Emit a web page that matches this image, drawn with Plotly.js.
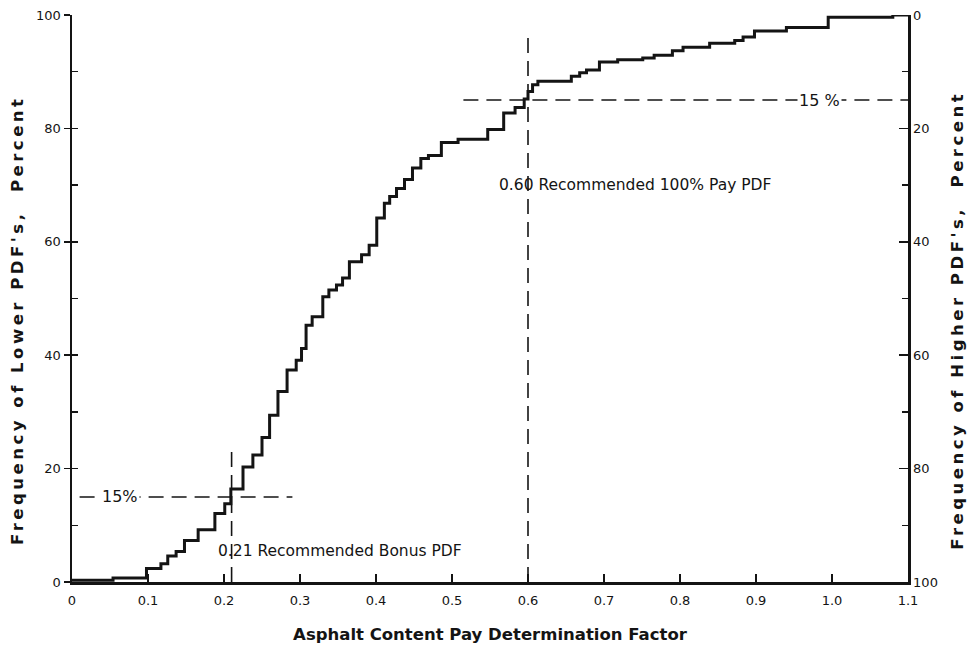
<!DOCTYPE html>
<html>
<head>
<meta charset="utf-8">
<script src="https://cdn.plot.ly/plotly-3.0.1.min.js"></script>
<style>
  html, body { margin: 0; padding: 0; background: #ffffff; }
  #chart { width: 974px; height: 649px; }
</style>
</head>
<body>
<div id="chart"></div>
<script>
// Cumulative distribution of asphalt content PDFs (step curve).
// Each point starts a level that holds until the next PDF value.
const pdfValues = [
  0, 0.054, 0.098, 0.117, 0.126, 0.137, 0.148, 0.166, 0.188, 0.201,
  0.209, 0.225, 0.238, 0.250, 0.260, 0.271, 0.283, 0.295, 0.302, 0.308,
  0.316, 0.330, 0.338, 0.348, 0.356, 0.365, 0.381, 0.391, 0.401, 0.411,
  0.418, 0.427, 0.4375, 0.448, 0.459, 0.469, 0.486, 0.508, 0.547, 0.568,
  0.583, 0.595, 0.600, 0.606, 0.613, 0.657, 0.668, 0.677, 0.694, 0.718,
  0.751, 0.766, 0.790, 0.804, 0.839, 0.872, 0.883, 0.898, 0.940, 0.995,
  1.080, 1.100
];
const lowerFreq = [
  0.3, 0.7, 2.4, 3.2, 4.6, 5.4, 7.3, 9.2, 12.1, 13.8,
  16.4, 20.3, 22.4, 25.5, 29.4, 33.6, 37.4, 39.1, 41.2, 45.3,
  46.8, 50.3, 51.5, 52.4, 53.6, 56.5, 57.7, 59.4, 64.2, 66.8,
  68.0, 69.4, 71.0, 73.0, 74.7, 75.2, 77.5, 78.1, 79.8, 82.7,
  83.7, 85.2, 86.5, 87.7, 88.3, 89.2, 89.8, 90.3, 91.7, 92.1,
  92.4, 92.9, 93.7, 94.3, 95.0, 95.5, 96.1, 97.2, 97.8, 99.6,
  100, 100
];

// Axis ticks
const xTickVals = [0, 0.1, 0.2, 0.21, 0.3, 0.4, 0.5, 0.6, 0.7, 0.8, 0.9, 1.0, 1.1];
const xTickText = ['0', '0.1', '0.2', '', '0.3', '0.4', '0.5', '0.6', '0.7', '0.8', '0.9', '1.0', '1.1'];
const leftTickVals = [0, 20, 40, 60, 80, 100];
const rightTickVals = [0, 20, 40, 60, 80, 100];

// Recommended limits
const bonusPdf = 0.21;
const fullPayPdf = 0.60;
const lowerLimitPct = 15;
const upperLimitPct = 85;

const ink = '#141414';
const fontFam = 'DejaVu Sans, Liberation Sans, sans-serif';
const titleFont = { size: 16.5, family: fontFam, color: ink, weight: 'bold' };
const noteFont = { size: 15.5, family: fontFam, color: ink };

const traces = [
  {
    x: pdfValues, y: lowerFreq,
    type: 'scatter', mode: 'lines',
    line: { shape: 'hv', color: ink, width: 3 },
    hoverinfo: 'skip', showlegend: false
  },
  {
    // anchors the right-hand (higher PDF) axis
    x: [1.1], y: [0], yaxis: 'y2',
    type: 'scatter', mode: 'markers',
    marker: { opacity: 0 }, hoverinfo: 'skip', showlegend: false
  },
  {
    x: [0], y: [0], yaxis: 'y3',
    type: 'scatter', mode: 'markers',
    marker: { opacity: 0 }, hoverinfo: 'skip', showlegend: false
  }
];

const dashed = { color: ink, width: 1.6, dash: '15px,8px' };

const layout = {
  width: 974, height: 649,
  margin: { l: 72, r: 66, t: 15, b: 67 },
  paper_bgcolor: '#ffffff', plot_bgcolor: '#ffffff',
  font: { family: fontFam, color: ink, size: 12 },
  showlegend: false,
  xaxis: {
    range: [0, 1.1], fixedrange: true,
    tickmode: 'array', tickvals: xTickVals, ticktext: xTickText,
    ticks: 'inside', ticklen: 8, tickwidth: 1.5, tickcolor: ink,
    ticklabelstandoff: 5,
    showgrid: false, zeroline: false,
    showline: true, linecolor: ink, linewidth: 2.5,
    tickfont: { size: 13, family: fontFam, color: ink },
    title: {
      text: 'Asphalt Content Pay Determination Factor',
      font: titleFont,
      standoff: 22
    }
  },
  yaxis: {
    range: [0, 100], fixedrange: true,
    tickmode: 'array', tickvals: leftTickVals,
    ticks: 'outside', ticklen: 6, tickwidth: 1.5, tickcolor: ink,
    showgrid: false, zeroline: false,
    showline: true, linecolor: ink, linewidth: 2.5,
    tickfont: { size: 13, family: fontFam, color: ink }
  },
  yaxis3: {
    overlaying: 'y', side: 'left', range: [0, 100], fixedrange: true,
    tickmode: 'linear', tick0: 0, dtick: 10,
    ticks: 'inside', ticklen: 6, tickwidth: 1.5, tickcolor: ink,
    showticklabels: false, showgrid: false, zeroline: false, showline: false
  },
  yaxis2: {
    overlaying: 'y', side: 'right', range: [100, 0], fixedrange: true,
    tickmode: 'array', tickvals: rightTickVals,
    ticks: 'inside', ticklen: 9, tickwidth: 1.5, tickcolor: ink,
    minor: { tickmode: 'linear', tick0: 10, dtick: 20, ticks: 'inside', ticklen: 6, tickwidth: 1.5, tickcolor: ink },
    showgrid: false, zeroline: false,
    showline: true, linecolor: ink, linewidth: 2.5,
    tickfont: { size: 13, family: fontFam, color: ink }
  },
  shapes: [
    // 15 % lower limit and bonus PDF
    { type: 'line', xref: 'x', yref: 'y', x0: 0.01, x1: 0.29, y0: lowerLimitPct, y1: lowerLimitPct, line: dashed },
    { type: 'line', xref: 'x', yref: 'y', x0: bonusPdf, x1: bonusPdf, y0: 0, y1: 24, line: dashed },
    // 15 % upper limit and full pay PDF
    { type: 'line', xref: 'x', yref: 'y', x0: 0.515, x1: 1.1, y0: upperLimitPct, y1: upperLimitPct, line: dashed },
    { type: 'line', xref: 'x', yref: 'y', x0: fullPayPdf, x1: fullPayPdf, y0: 0, y1: 96.5, line: dashed }
  ],
  annotations: [
    { x: 0.0625, y: lowerLimitPct, xref: 'x', yref: 'y', text: '15%', showarrow: false,
      bgcolor: '#ffffff', borderpad: 1, font: { size: 16, family: fontFam, color: ink } },
    { x: 0.984, y: upperLimitPct, xref: 'x', yref: 'y', text: '15 %', showarrow: false,
      bgcolor: '#ffffff', borderpad: 1, font: { size: 16, family: fontFam, color: ink } },
    { x: 0.189, y: 5.4, xref: 'x', yref: 'y', xanchor: 'left', text: '0.21 Recommended Bonus PDF',
      showarrow: false, font: noteFont },
    { x: 0.559, y: 70, xref: 'x', yref: 'y', xanchor: 'left', text: '0.60 Recommended 100% Pay PDF',
      showarrow: false, font: noteFont },
    // vertical axis titles
    { x: -0.079, y: 0.462, xref: 'paper', yref: 'paper', textangle: -90,
      text: "Frequency of Lower PDF's,  Percent", showarrow: false, font: titleFont },
    { x: 1.073, y: 0.462, xref: 'paper', yref: 'paper', textangle: -90,
      text: "Frequency of Higher PDF's,  Percent", showarrow: false, font: titleFont }
  ]
};

Plotly.newPlot('chart', traces, layout, { staticPlot: true, displayModeBar: false }).then(function () {
  // the vertical titles are lettered with wide spacing
  document.querySelectorAll('.annotation-text').forEach(function (t) {
    if (t.textContent.indexOf('Frequency') === 0) {
      t.setAttribute('letter-spacing', '3.5px');
    }
  });
});
</script>
</body>
</html>
